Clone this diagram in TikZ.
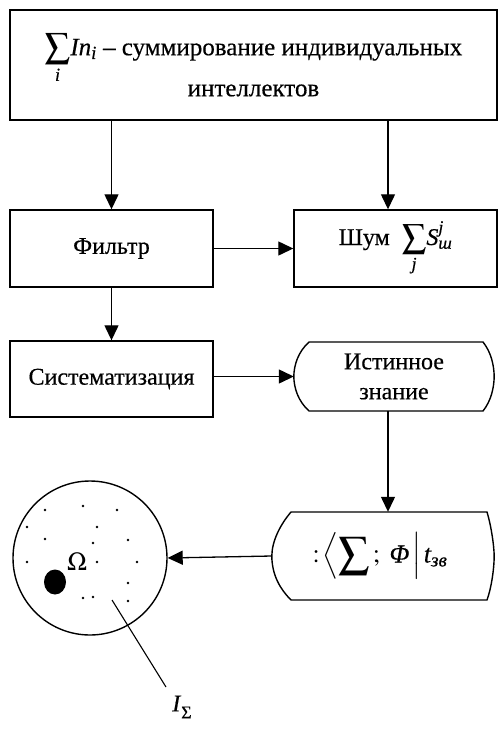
\documentclass[tikz,border=0pt]{standalone}
\usepackage{amsmath}
\usepackage{graphicx}
\usepackage{mathptmx}
\usepackage{fontspec}
\setmainfont[FakeBold=0.4]{Liberation Serif}
\usetikzlibrary{arrows.meta,calc}
\newcommand{\itx}[1]{\text{\itshape #1}}
\begin{document}
\begin{tikzpicture}[x=1pt,y=-1pt,
  box/.style={draw,line width=1.4pt,minimum width=203pt,minimum height=77pt,inner sep=0pt,font=\fontsize{24}{28}\selectfont},
  outline/.style={draw,line width=1.4pt},
  arr/.style={line width=1.3pt,-{Triangle[length=15pt,width=14pt]}},
  dotp/.style={fill,circle,inner sep=0pt,minimum size=2.8pt}]
\useasboundingbox (0,0) rectangle (500,729);
% top box
\node[box,minimum width=487pt,minimum height=110pt,align=center,
  font=\fontsize{25}{41}\selectfont] (top) at (253.5,65)
  {$\displaystyle\sum_{\itx{i}}$\textit{In}$_{\itx{i}}$ -- суммирование индивидуальных\\интеллектов};
\node[box] (filter) at (111.5,248.5) {Фильтр};
\node[box] (noise) at (395.5,248.5) {Шум\ \ $\displaystyle\sum_{\itx{j}}$\textit{S}$^{\itx{j}\vphantom{y}}_{\itx{ш}}$};
\node[box,minimum height=76pt] (sys) at (111.5,379) {Систематизация};
% true knowledge shape
\node[inner sep=0pt,minimum width=200pt,minimum height=69pt,align=center,
  font=\fontsize{24}{30}\selectfont] (tk) at (394,376.5) {Истинное\\знание};
\draw[outline] (309,342) -- (483,342) .. controls (491,352) and (494,365) .. (tk.east)
  .. controls (494,388) and (491,401) .. (483,411) -- (309,411)
  .. controls (298,401) and (294,388) .. (tk.west)
  .. controls (294,365) and (298,352) .. cycle;
% bottom shape
\node[inner sep=0pt,minimum width=222pt,minimum height=88pt,
  font=\fontsize{26}{30}\selectfont] (res) at (383,556)
  {\hspace*{-6pt}$:\!\left\langle\vcenter{\hbox{\scalebox{1.7}{$\sum$}}}\,;\ \itx{Φ}\,\right|\itx{t}_{\itx{зв}}$};
\draw[outline] (291,512) -- (487,512) .. controls (491,525) and (494,545) .. (res.east)
  .. controls (494,571) and (491,589) .. (487,600) -- (291,600)
  .. controls (280,589) and (272,575) .. (res.west)
  .. controls (272,541) and (280,525) .. cycle;
% circle
\node[draw,circle,line width=1.4pt,minimum size=154pt,inner sep=0pt] (circ) at (90,558) {};
\fill (55,582) ellipse [x radius=11pt,y radius=12.5pt];
\node[inner sep=0pt,font=\fontsize{26}{30}\selectfont] (omega) at (77,562) {$\Omega$};
\foreach \p in {(45,510),(83,506),(117,510),(27,527),(97,527),(45,539),(93,543),(128,540),
  (27,562),(97,562),(137,562),(128,583),(83,598),(93,597),(128,601)}
  \node[dotp] at \p {};
\coordinate (lstart) at (112,600);
\node[font=\fontsize{24}{28}\selectfont,inner sep=0pt] (isum) at (182,707)
  {\textit{I}\raisebox{-7pt}{\fontsize{18}{18}\selectfont Σ}};
\coordinate (lend) at (166,687);
\draw[line width=1.1pt] (lstart) -- (lend);
% connectors
\coordinate (rx) at (388,0);
\draw[arr] (top.south -| filter.north) -- (filter.north);
\draw[arr] (top.south -| rx) -- (noise.north -| rx);
\draw[arr] (filter.east) -- (noise.west);
\draw[arr] (filter.south) -- (sys.north);
\draw[arr] (sys.east |- tk.west) -- (tk.west);
\draw[arr] (tk.south -| rx) -- (res.north -| rx);
\draw[arr] (res.west) -- (circ.east);
\end{tikzpicture}
\end{document}
